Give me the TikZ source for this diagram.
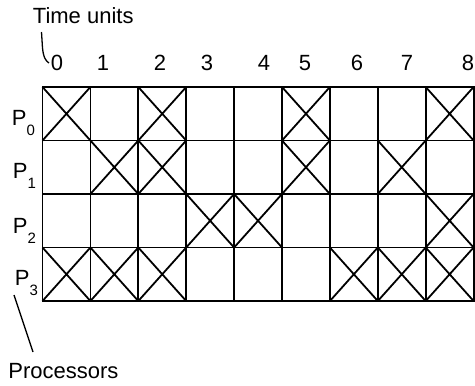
\documentclass[tikz,border=0pt]{standalone}
\usepackage{fontspec}
\setmainfont{Liberation Sans}
\usetikzlibrary{positioning}

\newcommand{\psub}[1]{\raisebox{-10.5pt}{\fontsize{15}{15}\selectfont #1}}

\begin{document}
\begin{tikzpicture}[
x=1pt, y=-1pt,
line width=1.8pt,
every node/.style={
font=\fontsize{22}{26}\selectfont,
inner sep=1pt
},
cell/.style={draw, rectangle, minimum width=47.9pt, minimum height=53.5pt, inner sep=0pt, outer sep=0pt},
cross/.style={line width=1.8pt},
leader/.style={line width=1.3pt}
]
\useasboundingbox (0,0) rectangle (475,386);

% time slots of each processor
\foreach \r in {0,...,3}
  \foreach \c in {0,...,8}
    \node[cell] (c-\r-\c) at ({42.5+47.9*(\c+0.5)}, {87+53.5*(\r+0.5)}) {};

% busy slots
\foreach \r/\c in {0/0,0/2,0/5,0/8, 1/1,1/2,1/5,1/7, 2/3,2/4,2/8, 3/0,3/1,3/2,3/6,3/7,3/8}
  \draw[cross] (c-\r-\c.north west) -- (c-\r-\c.south east)
               (c-\r-\c.north east) -- (c-\r-\c.south west);

% time axis
\foreach \t/\x in {0/57,1/103,2/160,3/207,4/264,5/305,6/357,7/407,8/468}
  \node (t\t) at (\x,63) {\t};

% processors
\foreach \p/\x/\y in {0/10/125,1/11/178,2/11/233,3/13/285}
  \node[anchor=base west] (p\p) at (\x,\y) {P\psub{\p}};

\node[anchor=base west] (time) at (31,23) {Time units};
\node[anchor=base west] (proc) at (6.5,378) {Processors};

\coordinate (time-tail) at (41.5,32);
\coordinate (proc-tail) at (14,295);
\coordinate (proc-head) at (33,352);

\draw[leader] (time-tail) -- (42.5,48) .. controls (43.5,58) and (46,61) .. (t0.west);
\draw[leader] (proc-tail) -- (proc-head);

\end{tikzpicture}
\end{document}
